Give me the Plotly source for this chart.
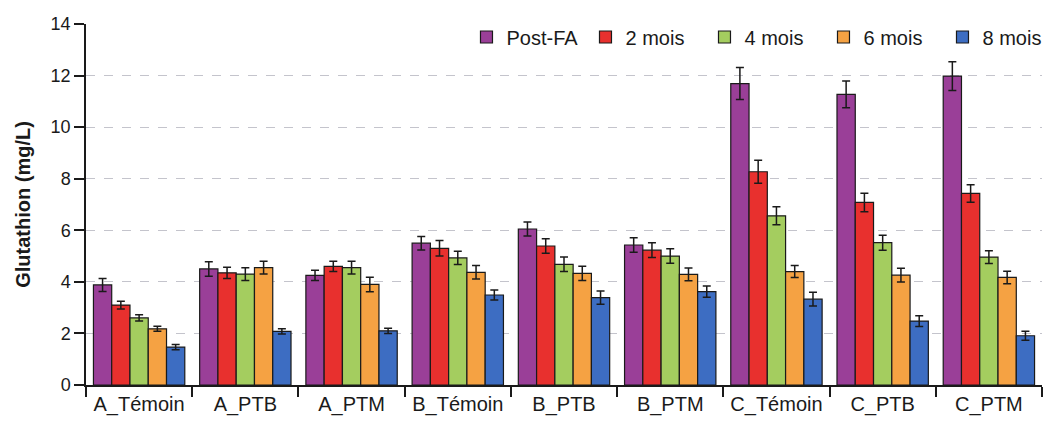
import plotly.graph_objects as go

categories = ["A_Témoin", "A_PTB", "A_PTM", "B_Témoin", "B_PTB", "B_PTM", "C_Témoin", "C_PTB", "C_PTM"]
series_names = ["Post-FA", "2 mois", "4 mois", "6 mois", "8 mois"]
colors = ["#9a3f98", "#e8302e", "#a4cd5f", "#f5a243", "#3d6dc2"]

post_fa = [3.88, 4.50, 4.25, 5.50, 6.05, 5.43, 11.69, 11.27, 11.98]
mois2 = [3.10, 4.35, 4.60, 5.30, 5.39, 5.23, 8.27, 7.08, 7.43]
mois4 = [2.60, 4.30, 4.55, 4.93, 4.68, 5.00, 6.56, 5.52, 4.96]
mois6 = [2.18, 4.55, 3.90, 4.37, 4.33, 4.29, 4.40, 4.26, 4.17]
mois8 = [1.47, 2.08, 2.10, 3.49, 3.39, 3.62, 3.33, 2.48, 1.91]

err_post_fa = [0.25, 0.28, 0.20, 0.26, 0.27, 0.28, 0.62, 0.52, 0.56]
err_mois2 = [0.15, 0.22, 0.20, 0.30, 0.28, 0.29, 0.45, 0.36, 0.34]
err_mois4 = [0.12, 0.25, 0.25, 0.26, 0.28, 0.28, 0.35, 0.29, 0.25]
err_mois6 = [0.10, 0.25, 0.28, 0.26, 0.28, 0.25, 0.23, 0.27, 0.24]
err_mois8 = [0.10, 0.10, 0.10, 0.19, 0.26, 0.22, 0.27, 0.21, 0.17]

values = [post_fa, mois2, mois4, mois6, mois8]
errors = [err_post_fa, err_mois2, err_mois4, err_mois6, err_mois8]

fig = go.Figure()
for name, col, v, e in zip(series_names, colors, values, errors):
    fig.add_trace(go.Bar(
        name=name, x=categories, y=v,
        marker=dict(color=col, line=dict(color="#1a1a1a", width=1.2)),
        error_y=dict(type="data", array=e, color="#1a1a1a", thickness=1.5, width=4),
    ))

font_family = "Liberation Sans, Arial, sans-serif"
fig.update_layout(
    width=1044, height=414,
    margin=dict(l=78, r=10, t=16, b=37, autoexpand=False),
    paper_bgcolor="white", plot_bgcolor="white",
    barmode="group", bargap=0.14, bargroupgap=0.0,
    font=dict(family=font_family, color="#1a1a1a", size=18),
    showlegend=True,
    legend=dict(orientation="h", x=0.398, xanchor="left", y=0.964, yanchor="middle",
                font=dict(size=20), bgcolor="rgba(0,0,0,0)",
                itemwidth=30, tracegroupgap=0, traceorder="normal",
                entrywidth=74, entrywidthmode="pixels"),
    xaxis=dict(showline=True, linecolor="#1a1a1a", linewidth=1.5,
               ticks="outside", tickson="boundaries", ticklen=10, tickwidth=1.5,
               tickcolor="#1a1a1a", tickfont=dict(size=20), showgrid=False),
    yaxis=dict(range=[0, 14], dtick=2, showline=True, linecolor="#1a1a1a", linewidth=1.5,
               ticks="outside", ticklen=10, tickwidth=1.5, tickcolor="#1a1a1a",
               tickfont=dict(size=18), showgrid=True, gridcolor="#c4c4cc",
               griddash="dash", gridwidth=1, zeroline=False,
               title=dict(text="<b>Glutathion (mg/L)</b>", font=dict(size=20), standoff=15)),
)

fig.write_html("out.html")
